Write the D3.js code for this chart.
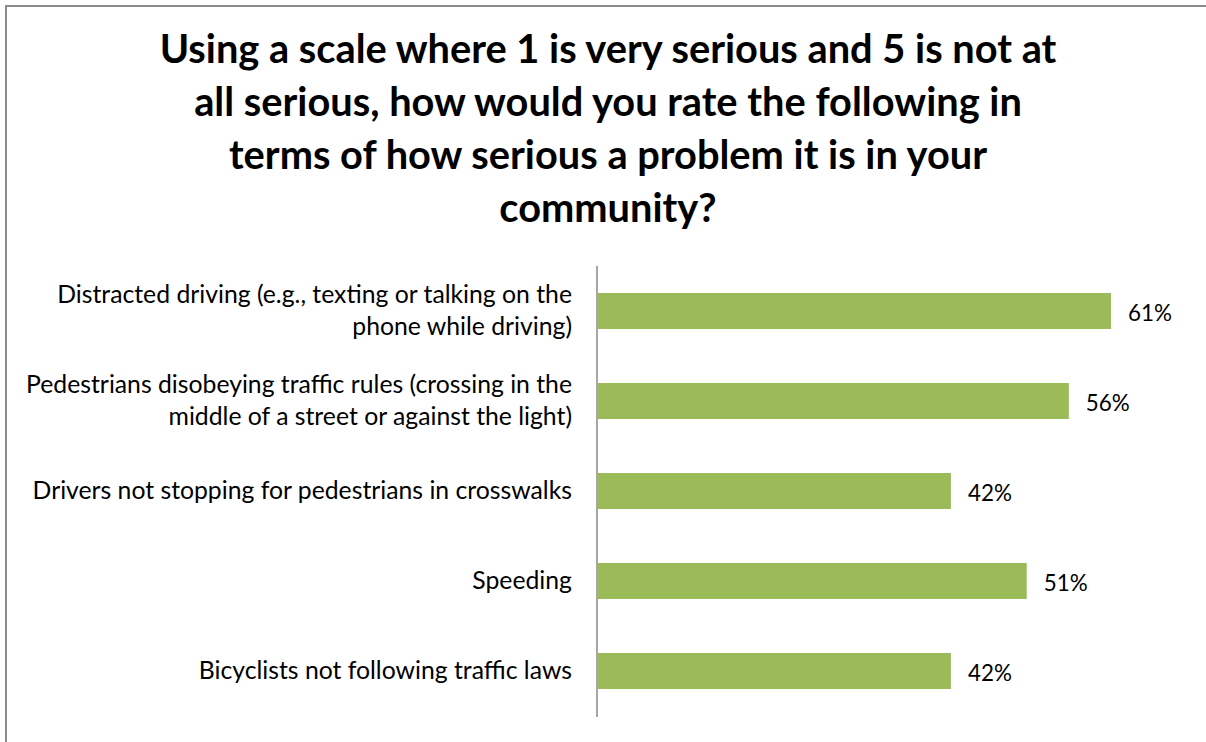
<!DOCTYPE html>
<html>
<head>
<meta charset="utf-8">
<script src="https://cdn.jsdelivr.net/npm/d3@7"></script>
<style>
  body { margin: 0; background: #fff; }
  text { font-family: Lato, "Open Sans", sans-serif; fill: #000; }
</style>
</head>
<body>
<div id="chart"></div>
<script>
// Data
const categories = [
	["Distracted driving (e.g., texting or talking on the", "phone while driving)"],
	["Pedestrians disobeying traffic rules (crossing in the", "middle of a street or against the light)"],
	["Drivers not stopping for pedestrians in crosswalks"],
	["Speeding"],
	["Bicyclists not following traffic laws"]
];
const values = [0.61, 0.56, 0.42, 0.51, 0.42];
const titleLines = [
	"Using a scale where 1 is very serious and 5 is not at",
	"all serious, how would you rate the following in",
	"terms of how serious a problem it is in your",
	"community?"
];

const svgWidth = 1206;
const svgHeight = 742;

const svg = d3.select("#chart")
	.append("svg")
	.attr("width", svgWidth)
	.attr("height", svgHeight);

svg.append("rect")
	.attr("width", svgWidth)
	.attr("height", svgHeight)
	.attr("fill", "#fff");

// chart area border (right/bottom run off the picture)
svg.append("rect")
	.attr("x", 6)
	.attr("y", 6)
	.attr("width", 1220)
	.attr("height", 760)
	.attr("fill", "none")
	.attr("stroke", "#8c8c8c")
	.attr("stroke-width", 2);

// helper: font size so that a string gets a target width
function fitSize(str, weight, target) {
	const t = svg.append("text")
		.attr("font-size", 20)
		.attr("font-weight", weight)
		.text(str);
	const w = t.node().getComputedTextLength();
	t.remove();
	return 20 * target / w;
}

// Title
const titleSize = fitSize(titleLines[0], "bold", 897);
svg.append("g")
	.selectAll("text")
	.data(titleLines)
	.join("text")
	.attr("x", 608)
	.attr("y", (d, i) => 63 + i * 53)
	.attr("text-anchor", "middle")
	.attr("font-weight", "bold")
	.attr("font-size", titleSize)
	.text(d => d);

// Scales
const x = d3.scaleLinear()
	.domain([0, 0.7])
	.range([597, 597 + 0.7 * 842.6]);

const y = d3.scaleBand()
	.domain(d3.range(values.length))
	.range([266, 716])
	.paddingInner(0.6)
	.paddingOuter(0.3);

// Bars
svg.append("g")
	.selectAll("rect")
	.data(values)
	.join("rect")
	.attr("x", x(0))
	.attr("y", (d, i) => y(i))
	.attr("width", d => x(d) - x(0))
	.attr("height", y.bandwidth())
	.attr("fill", "#9bbb59");

// Vertical axis line
svg.append("line")
	.attr("x1", 597)
	.attr("x2", 597)
	.attr("y1", 266)
	.attr("y2", 717)
	.attr("stroke", "#a6a6a6")
	.attr("stroke-width", 2);

// Category labels
const catSize = fitSize(categories[0][0], "normal", 515);
const catGroup = svg.append("g");
categories.forEach((lines, i) => {
	const cy = y(i) + y.bandwidth() / 2;
	lines.forEach((line, j) => {
		catGroup.append("text")
			.attr("x", 572)
			.attr("y", cy + 8 + (j - (lines.length - 1) / 2) * 32)
			.attr("text-anchor", "end")
			.attr("font-size", catSize)
			.text(line);
	});
});

// Value labels
const valSize = fitSize("61%", "normal", 44);
svg.append("g")
	.selectAll("text")
	.data(values)
	.join("text")
	.attr("x", d => x(d) + 17)
	.attr("y", (d, i) => y(i) + y.bandwidth() / 2 + 10)
	.attr("font-size", valSize)
	.text(d => d3.format(".0%")(d));
</script>
</body>
</html>
